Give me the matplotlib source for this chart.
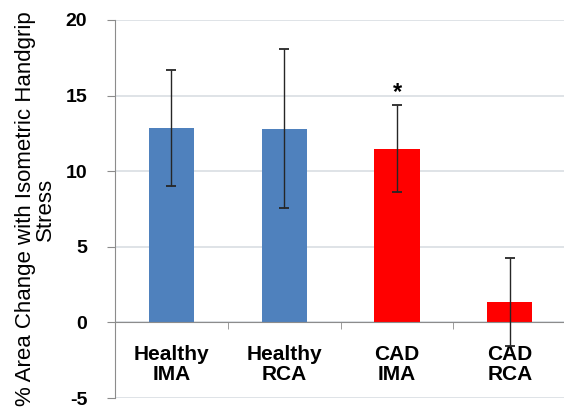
import matplotlib.pyplot as plt

plt.rcParams['font.family'] = ['Liberation Sans', 'DejaVu Sans']

# data
groups = ['Healthy\nIMA', 'Healthy\nRCA', 'CAD\nIMA', 'CAD\nRCA']
area_change = [12.85, 12.8, 11.5, 1.35]
err = [3.85, 5.25, 2.9, 2.9]
bar_colors = ['#4F81BD', '#4F81BD', '#FF0000', '#FF0000']
sig_marks = ['', '', '*', '']
y_ticks = [-5, 0, 5, 10, 15, 20]

fig = plt.figure(figsize=(5.64, 4.16), dpi=100)
ax = fig.add_axes([0.204, 0.043, 0.80, 0.909])

x = list(range(len(groups)))
ax.bar(x, area_change, width=0.4, color=bar_colors, zorder=2)
ax.errorbar(x, area_change, yerr=err, fmt='none', ecolor='#262626',
            elinewidth=1.0, capsize=3.5, capthick=1.3, zorder=3)

# significance marker
for xi, v, e, m in zip(x, area_change, err, sig_marks):
    if m:
        ax.text(xi, v + e + 0.05, m, ha='center', va='bottom',
                fontsize=17, fontweight='bold')

ax.set_xlim(-0.5, 3.5)
ax.set_ylim(-5, 20)
ax.set_yticks(y_ticks)
ax.set_yticklabels([str(t) for t in y_ticks], fontsize=14, fontweight='bold')
ax.yaxis.grid(True, color='#D9DEE3', linewidth=1.2, zorder=0)
ax.set_axisbelow(True)

# category axis sits on the zero line, tick marks between categories
ax.spines['bottom'].set_position(('data', 0))
ax.spines['bottom'].set_color('#8C8C8C')
ax.spines['left'].set_color('#8C8C8C')
ax.spines['top'].set_visible(False)
ax.spines['right'].set_visible(False)
ax.set_xticks(x)
ax.set_xticklabels(groups, fontsize=15, fontweight='bold', linespacing=1.1)
ax.set_xticks([i - 0.5 for i in range(len(groups) + 1)], minor=True)
ax.tick_params(axis='x', which='major', length=0, pad=16)
ax.tick_params(axis='x', which='minor', length=5, color='#8C8C8C')
ax.tick_params(axis='y', length=6, color='#8C8C8C', pad=14)

ax.set_ylabel('% Area Change with Isometric Handgrip\nStress',
              fontsize=16, linespacing=0.95, labelpad=7)

plt.savefig('out.png', dpi=100)
